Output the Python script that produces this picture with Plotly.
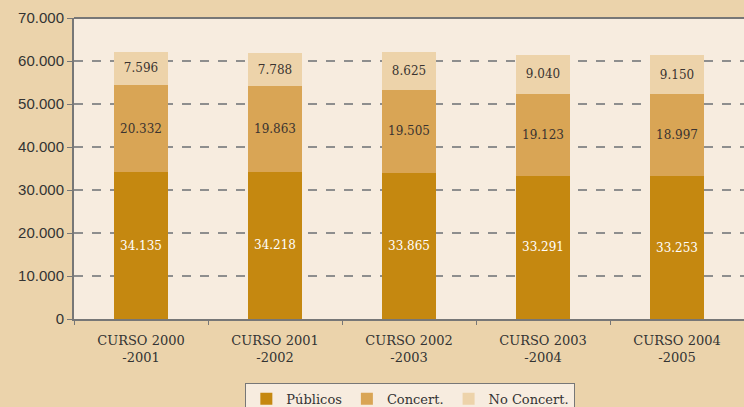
import plotly.graph_objects as go

categories = ["CURSO 2000<br>-2001", "CURSO 2001<br>-2002", "CURSO 2002<br>-2003",
              "CURSO 2003<br>-2004", "CURSO 2004<br>-2005"]
publicos = [34135, 34218, 33865, 33291, 33253]
concert = [20332, 19863, 19505, 19123, 18997]
no_concert = [7596, 7788, 8625, 9040, 9150]
y_ticks = [0, 10000, 20000, 30000, 40000, 50000, 60000, 70000]
y_tick_labels = ["0", "10.000", "20.000", "30.000", "40.000", "50.000", "60.000", "70.000"]

def fmt(v):
    return f"{v:,}".replace(",", ".")

serif = "DejaVu Serif"
sans = "Liberation Sans"

series = [
    ("Públicos", publicos, "#C58810", "#FFFFFF"),
    ("Concert.", concert, "#D9A555", "#3A3330"),
    ("No Concert.", no_concert, "#EDD3AA", "#3A3330"),
]

fig = go.Figure()
for name, vals, color, tcolor in series:
    fig.add_trace(go.Bar(
        x=categories, y=vals, name=name,
        marker=dict(color=color, line=dict(width=0)),
        text=[fmt(v) for v in vals],
        textposition="inside", insidetextanchor="middle",
        textfont=dict(family=serif, size=12, color=tcolor),
        constraintext="none",
    ))

fig.update_layout(
    barmode="stack",
    bargap=0.6,
    width=744, height=407,
    margin=dict(l=74, r=0, t=18, b=88, autoexpand=False),
    paper_bgcolor="#EBD3AB",
    plot_bgcolor="#F7ECDF",
    showlegend=True,
    legend=dict(
        orientation="h", x=0.502, xanchor="center", y=-0.212, yanchor="top",
        bgcolor="#F7ECDF", bordercolor="#777777", borderwidth=1,
        font=dict(family=serif, size=13, color="#333333"),
        itemwidth=30, traceorder="normal",
    ),
)
fig.update_xaxes(
    showline=True, linecolor="#777777", linewidth=2,
    ticks="outside", tickson="boundaries", ticklen=4, tickcolor="#777777",
    tickfont=dict(family=serif, size=13, color="#333333"),
    ticklabelstandoff=8, automargin=False,
    showgrid=False,
)
fig.update_yaxes(
    range=[0, 70000], tickvals=y_ticks, ticktext=y_tick_labels,
    showline=True, linecolor="#777777", linewidth=2, mirror=False,
    ticks="outside", ticklen=5, tickcolor="#777777",
    tickfont=dict(family=sans, size=15, color="#333333"),
    showgrid=True, gridcolor="#8E8E8E", griddash="dash", gridwidth=1.5,
    zeroline=False, automargin=False,
)
fig.add_shape(type="line", xref="paper", yref="paper", x0=0, x1=1, y0=1, y1=1,
              line=dict(color="#777777", width=2), layer="above")

fig.write_html("out.html", config={"displayModeBar": False},
               post_script="document.body.style.margin='0';document.body.style.overflow='hidden';")
